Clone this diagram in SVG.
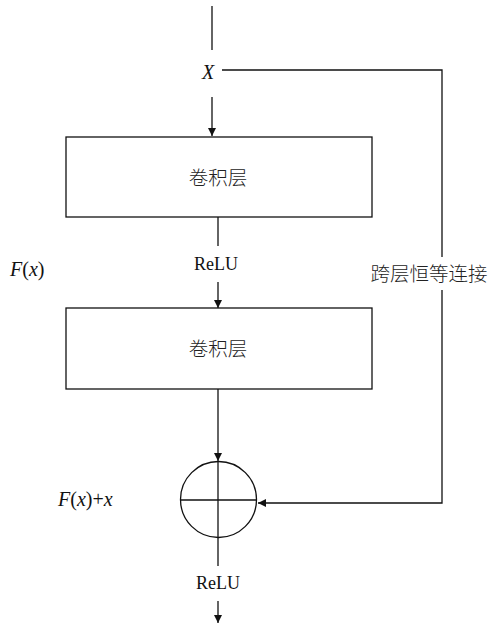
<svg xmlns="http://www.w3.org/2000/svg" width="489" height="629" viewBox="0 0 489 629">
<defs>
<style>
.ln{stroke:#111;stroke-width:1.3;fill:none}
.bx{stroke:#111;stroke-width:1.3;fill:#fff}
.t{font-family:"Liberation Serif","Noto Sans CJK SC",serif;font-size:18px;fill:#111}
.lb{font-size:20px}
.zh{font-family:"Liberation Serif","Noto Sans CJK SC",serif;font-size:19.5px;fill:#222;font-weight:300}
.it{font-style:italic}
</style>
<marker id="ah" viewBox="0 0 10 10" refX="10" refY="5" markerWidth="8" markerHeight="10" markerUnits="userSpaceOnUse" orient="auto">
<path d="M0,0 L10,5 L0,10 Z" fill="#111"/>
</marker>
</defs>
<rect width="489" height="629" fill="#fff"/>
<g id="connectors">
<line class="ln" x1="212" y1="6" x2="212" y2="50"/>
<line class="ln" x1="212" y1="97" x2="212" y2="136" marker-end="url(#ah)"/>
<polyline class="ln" points="222,70 442,70 442,257"/>
<polyline class="ln" points="442,290 442,503 258,503" marker-end="url(#ah)"/>
<line class="ln" x1="218" y1="217" x2="218" y2="246"/>
<line class="ln" x1="218" y1="282" x2="218" y2="308" marker-end="url(#ah)"/>
<line class="ln" x1="218" y1="389" x2="218" y2="461" marker-end="url(#ah)"/>
<line class="ln" x1="218" y1="537" x2="218" y2="566"/>
<line class="ln" x1="218" y1="601" x2="218" y2="623" marker-end="url(#ah)"/>
</g>
<g id="input-x">
<text class="t lb it" x="208" y="79" text-anchor="middle">X</text>
</g>
<g id="conv1">
<rect class="bx" x="66" y="137" width="306" height="80"/>
<text class="zh" x="218" y="185" text-anchor="middle">卷积层</text>
</g>
<g id="relu1">
<text class="t" x="216" y="270" text-anchor="middle">ReLU</text>
</g>
<g id="conv2">
<rect class="bx" x="66" y="308" width="306" height="81"/>
<text class="zh" x="218" y="356" text-anchor="middle">卷积层</text>
</g>
<g id="fx-label">
<text class="t lb" x="10" y="276"><tspan class="it">F</tspan>(<tspan class="it">x</tspan>)</text>
</g>
<g id="skip-label">
<text class="zh" x="429" y="281" text-anchor="middle">跨层恒等连接</text>
</g>
<g id="sum">
<circle class="bx" cx="218.5" cy="499.5" r="38"/>
<line class="ln" x1="180.5" y1="500" x2="256.5" y2="500"/>
<line class="ln" x1="218" y1="461" x2="218" y2="537"/>
</g>
<g id="fxx-label">
<text class="t lb" x="58" y="506"><tspan class="it">F</tspan>(<tspan class="it">x</tspan>)+<tspan class="it">x</tspan></text>
</g>
<g id="relu2">
<rect x="185" y="566" width="67" height="35" fill="#fff"/>
<text class="t" x="218" y="589" text-anchor="middle">ReLU</text>
</g>
</svg>
